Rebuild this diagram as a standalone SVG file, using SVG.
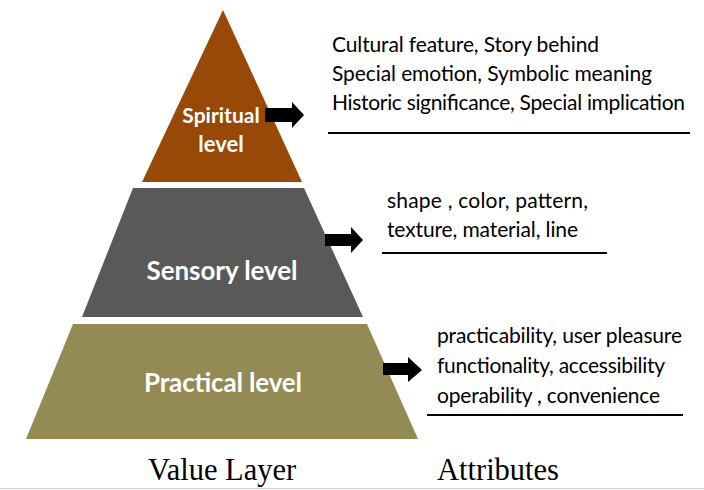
<svg xmlns="http://www.w3.org/2000/svg" width="704" height="490" viewBox="0 0 704 490">
<style>
.lvl{font-family:Lato,"Open Sans","Liberation Sans",sans-serif;font-weight:bold;fill:#ffffff;text-anchor:middle}
.att{font-family:Lato,"Open Sans","Liberation Sans",sans-serif;font-size:21px;fill:#000000}
.cap{font-family:"Liberation Serif","Times New Roman",serif;font-size:30.5px;fill:#000000}
.ul{stroke:#000000;stroke-width:2}
.arr{fill:#000000}
</style>
<rect width="704" height="490" fill="#ffffff"/>
<g id="spiritual-level">
<polygon points="223,10 302,182 142,182" fill="#984807"/>
<text class="lvl" x="221" y="123" font-size="21">Spiritual</text>
<text class="lvl" x="221" y="152" font-size="22">level</text>
</g>
<g id="sensory-level">
<polygon points="133,188 304,188 363,317 82,317" fill="#595959"/>
<text class="lvl" x="222" y="280" font-size="26" textLength="151">Sensory level</text>
</g>
<g id="practical-level">
<polygon points="73,324 367,324 418,439 26,439" fill="#948A54"/>
<text class="lvl" x="223" y="392" font-size="26" textLength="158">Practical level</text>
</g>
<g id="spiritual-attributes">
<text class="att" x="332" y="52" textLength="267">Cultural feature, Story behind</text>
<text class="att" x="332" y="81" textLength="320">Special emotion, Symbolic meaning</text>
<text class="att" x="332" y="110" textLength="353">Historic significance, Special implication</text>
<line class="ul" x1="328" y1="133" x2="690" y2="133"/>
</g>
<g id="sensory-attributes">
<text class="att" x="387" y="208" textLength="201">shape , color, pattern,</text>
<text class="att" x="387" y="237" textLength="191">texture, material, line</text>
<line class="ul" x1="382" y1="253" x2="607" y2="253"/>
</g>
<g id="practical-attributes">
<text class="att" x="437" y="343" textLength="245">practicability, user pleasure</text>
<text class="att" x="437" y="373" textLength="228">functionality, accessibility</text>
<text class="att" x="437" y="403" textLength="223">operability , convenience</text>
<line class="ul" x1="427" y1="415" x2="683" y2="415"/>
</g>
<g id="connectors">
<polygon class="arr" points="265,108 292,108 292,102 304,115 292,128 292,122 265,122"/>
<polygon class="arr" points="325,234 351,234 351,227 363,240 351,253 351,246 325,246"/>
<polygon class="arr" points="383,363 408,363 408,357 422,370 408,382 408,375 383,375"/>
</g>
<g id="captions">
<text class="cap" x="148" y="480">Value Layer</text>
<text class="cap" x="437" y="480">Attributes</text>
</g>
<line x1="0" y1="488.5" x2="704" y2="488.5" stroke="#d0d0d0" stroke-width="1"/>
</svg>
